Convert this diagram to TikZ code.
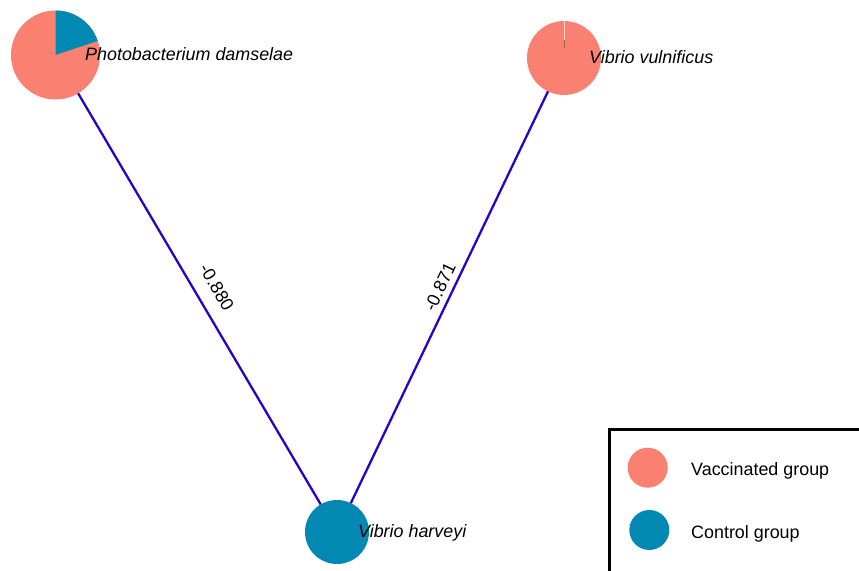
\documentclass[tikz,border=0pt]{standalone}
\usepackage{fontspec}
\setmainfont{Liberation Sans}
\definecolor{vacc}{RGB}{250,128,114}
\definecolor{ctrl}{RGB}{1,137,180}
\definecolor{edgeblue}{RGB}{42,0,205}
\tikzset{
  pie/.style={circle, inner sep=0pt, outer sep=0pt, draw=none},
  taxon/.style={anchor=base west, inner sep=0pt, font=\fontsize{17.9}{21}\selectfont\itshape},
  legtext/.style={anchor=base west, inner sep=0pt, font=\fontsize{17.9}{21}\selectfont},
  elabel/.style={inner sep=0pt, font=\fontsize{17.9}{21}\selectfont},
  link/.style={draw=edgeblue, line width=2.3pt},
}
\begin{document}
\begin{tikzpicture}[x=1pt,y=1pt]
\useasboundingbox (0,0) rectangle (859,570);
\clip (0,0) rectangle (859,570);
% pie nodes
\node[pie, minimum size=89pt, fill=vacc] (pd) at (55.5,515) {};
\fill[ctrl] (pd.center) -- ++(18.5:44.5) arc[start angle=18.5, end angle=90, radius=44.5] -- cycle;
\node[pie, minimum size=74pt, fill=vacc] (vv) at (564,512) {};
\draw[white, opacity=0.7, line width=0.6pt] (564,549) -- (564,530);
\draw[vacc!70!black, line width=0.6pt] (564,530) -- (564,522);
\node[pie, minimum size=64pt, fill=ctrl] (vh) at (337,38) {};
% edges
\draw[link] (pd) -- (vh);
\draw[link] (vv) -- (vh);
% edge labels
\node[elabel, rotate=-59.5] (l1) at (216.7,282.7) {-0.880};
\node[elabel, rotate=64.4] (l2) at (440,283) {-0.871};
% taxon labels
\node[taxon] (tpd) at (85,509) {Photobacterium damselae};
\node[taxon] (tvv) at (589,506) {Vibrio vulnificus};
\node[taxon] (tvh) at (358,32) {Vibrio harveyi};
% legend
\draw[line width=2.7pt] (609.7,-20) -- (609.7,140.3) -- (880,140.3);
\node[pie, minimum size=40pt, fill=vacc] (lv) at (647.7,102.3) {};
\node[pie, minimum size=40pt, fill=ctrl] (lc) at (649.3,40) {};
\node[legtext] (tlv) at (691,94) {Vaccinated group};
\node[legtext] (tlc) at (691,31) {Control group};
\end{tikzpicture}
\end{document}
